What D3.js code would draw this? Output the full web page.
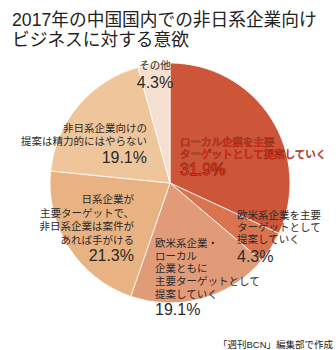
<!DOCTYPE html>
<html><head><meta charset="utf-8">
<script src="https://cdn.jsdelivr.net/npm/d3@7"></script>
<style>
body{margin:0;background:#fff;}
text{font-family:"Liberation Sans","Noto Sans CJK JP",sans-serif;}
</style></head>
<body>
<svg id="c" width="336" height="350"></svg>
<script>
const categories = [
  "ローカル企業を主要ターゲットとして提案していく",
  "欧米系企業を主要ターゲットとして提案していく",
  "欧米系企業・ローカル企業ともに主要ターゲットとして提案していく",
  "日系企業が主要ターゲットで、非日系企業は案件があれば手がける",
  "非日系企業向けの提案は精力的にはやらない",
  "その他"
];
const values = [31.9, 4.3, 19.1, 21.3, 19.1, 4.3];
const labelLines = [
  ["ローカル企業を主要","ターゲットとして提案していく"],
  ["欧米系企業を主要","ターゲットとして","提案していく"],
  ["欧米系企業・","ローカル","企業ともに","主要ターゲットとして","提案していく"],
  ["日系企業が","主要ターゲットで、","非日系企業は案件が","あれば手がける"],
  ["非日系企業向けの","提案は精力的にはやらない"],
  ["その他"]
];
const colors = ["#cd5638","#da7450","#e29b79","#e9b282","#efc69b","#f5dfd0"];
const titleLines = ["2017年の中国国内での非日系企業向け","ビジネスに対する意欲"];
const source = "「週刊BCN」編集部で作成";

// layout (positions of label blocks)
const layout = [
  {x:180, y:146, anchor:"start", lh:11.5, py:175, red:true},
  {x:237, y:219, anchor:"start", lh:12, py:262},
  {x:155, y:247, anchor:"start", lh:12.7, py:315},
  {x:134, y:203, anchor:"end", lh:13.7, py:261},
  {x:147, y:132, anchor:"end", lh:13, py:163},
  {x:155, y:69, anchor:"middle", lh:12, py:88}
];

const svg = d3.select("#c");
const cx = 170, cy = 183, R = 120;

svg.selectAll("text.title").data(titleLines).enter().append("text")
  .attr("x", 12).attr("y", (d,i)=>26+i*20)
  .attr("font-size", 17.7).attr("fill", "#222").text(d=>d);

const pie = d3.pie().sort(null).value(d=>d);
const arc = d3.arc().innerRadius(0).outerRadius(R);
const g = svg.append("g").attr("transform", `translate(${cx},${cy})`);
g.selectAll("path").data(pie(values)).enter().append("path")
  .attr("d", arc).attr("fill", (d,i)=>colors[i])
  .attr("stroke", "#fff").attr("stroke-width", 0.8);

labelLines.forEach((lines, i) => {
  const L = layout[i];
  const grp = svg.append("g");
  lines.forEach((t, j) => {
    const tx = grp.append("text").attr("x", L.x).attr("y", L.y + j*L.lh)
      .attr("text-anchor", L.anchor).attr("font-size", 10.5)
      .attr("fill", L.red ? "#e0321c" : "#2a2a2a").text(t);
    if (L.red) tx.attr("stroke", "#4a1a12").attr("stroke-width", 0.5).attr("paint-order", "stroke");
  });
  const p = grp.append("text").attr("x", L.x).attr("y", L.py)
    .attr("text-anchor", L.anchor).attr("font-size", 16)
    .attr("fill", L.red ? "#e0321c" : "#2a2a2a").text(values[i].toFixed(1) + "%");
  if (L.red) p.attr("stroke", "#4a1a12").attr("stroke-width", 0.8).attr("paint-order", "stroke");
});

svg.append("text").attr("x", 333).attr("y", 348).attr("text-anchor", "end")
  .attr("font-size", 9.5).attr("fill", "#222").text(source);
</script>
</body></html>
